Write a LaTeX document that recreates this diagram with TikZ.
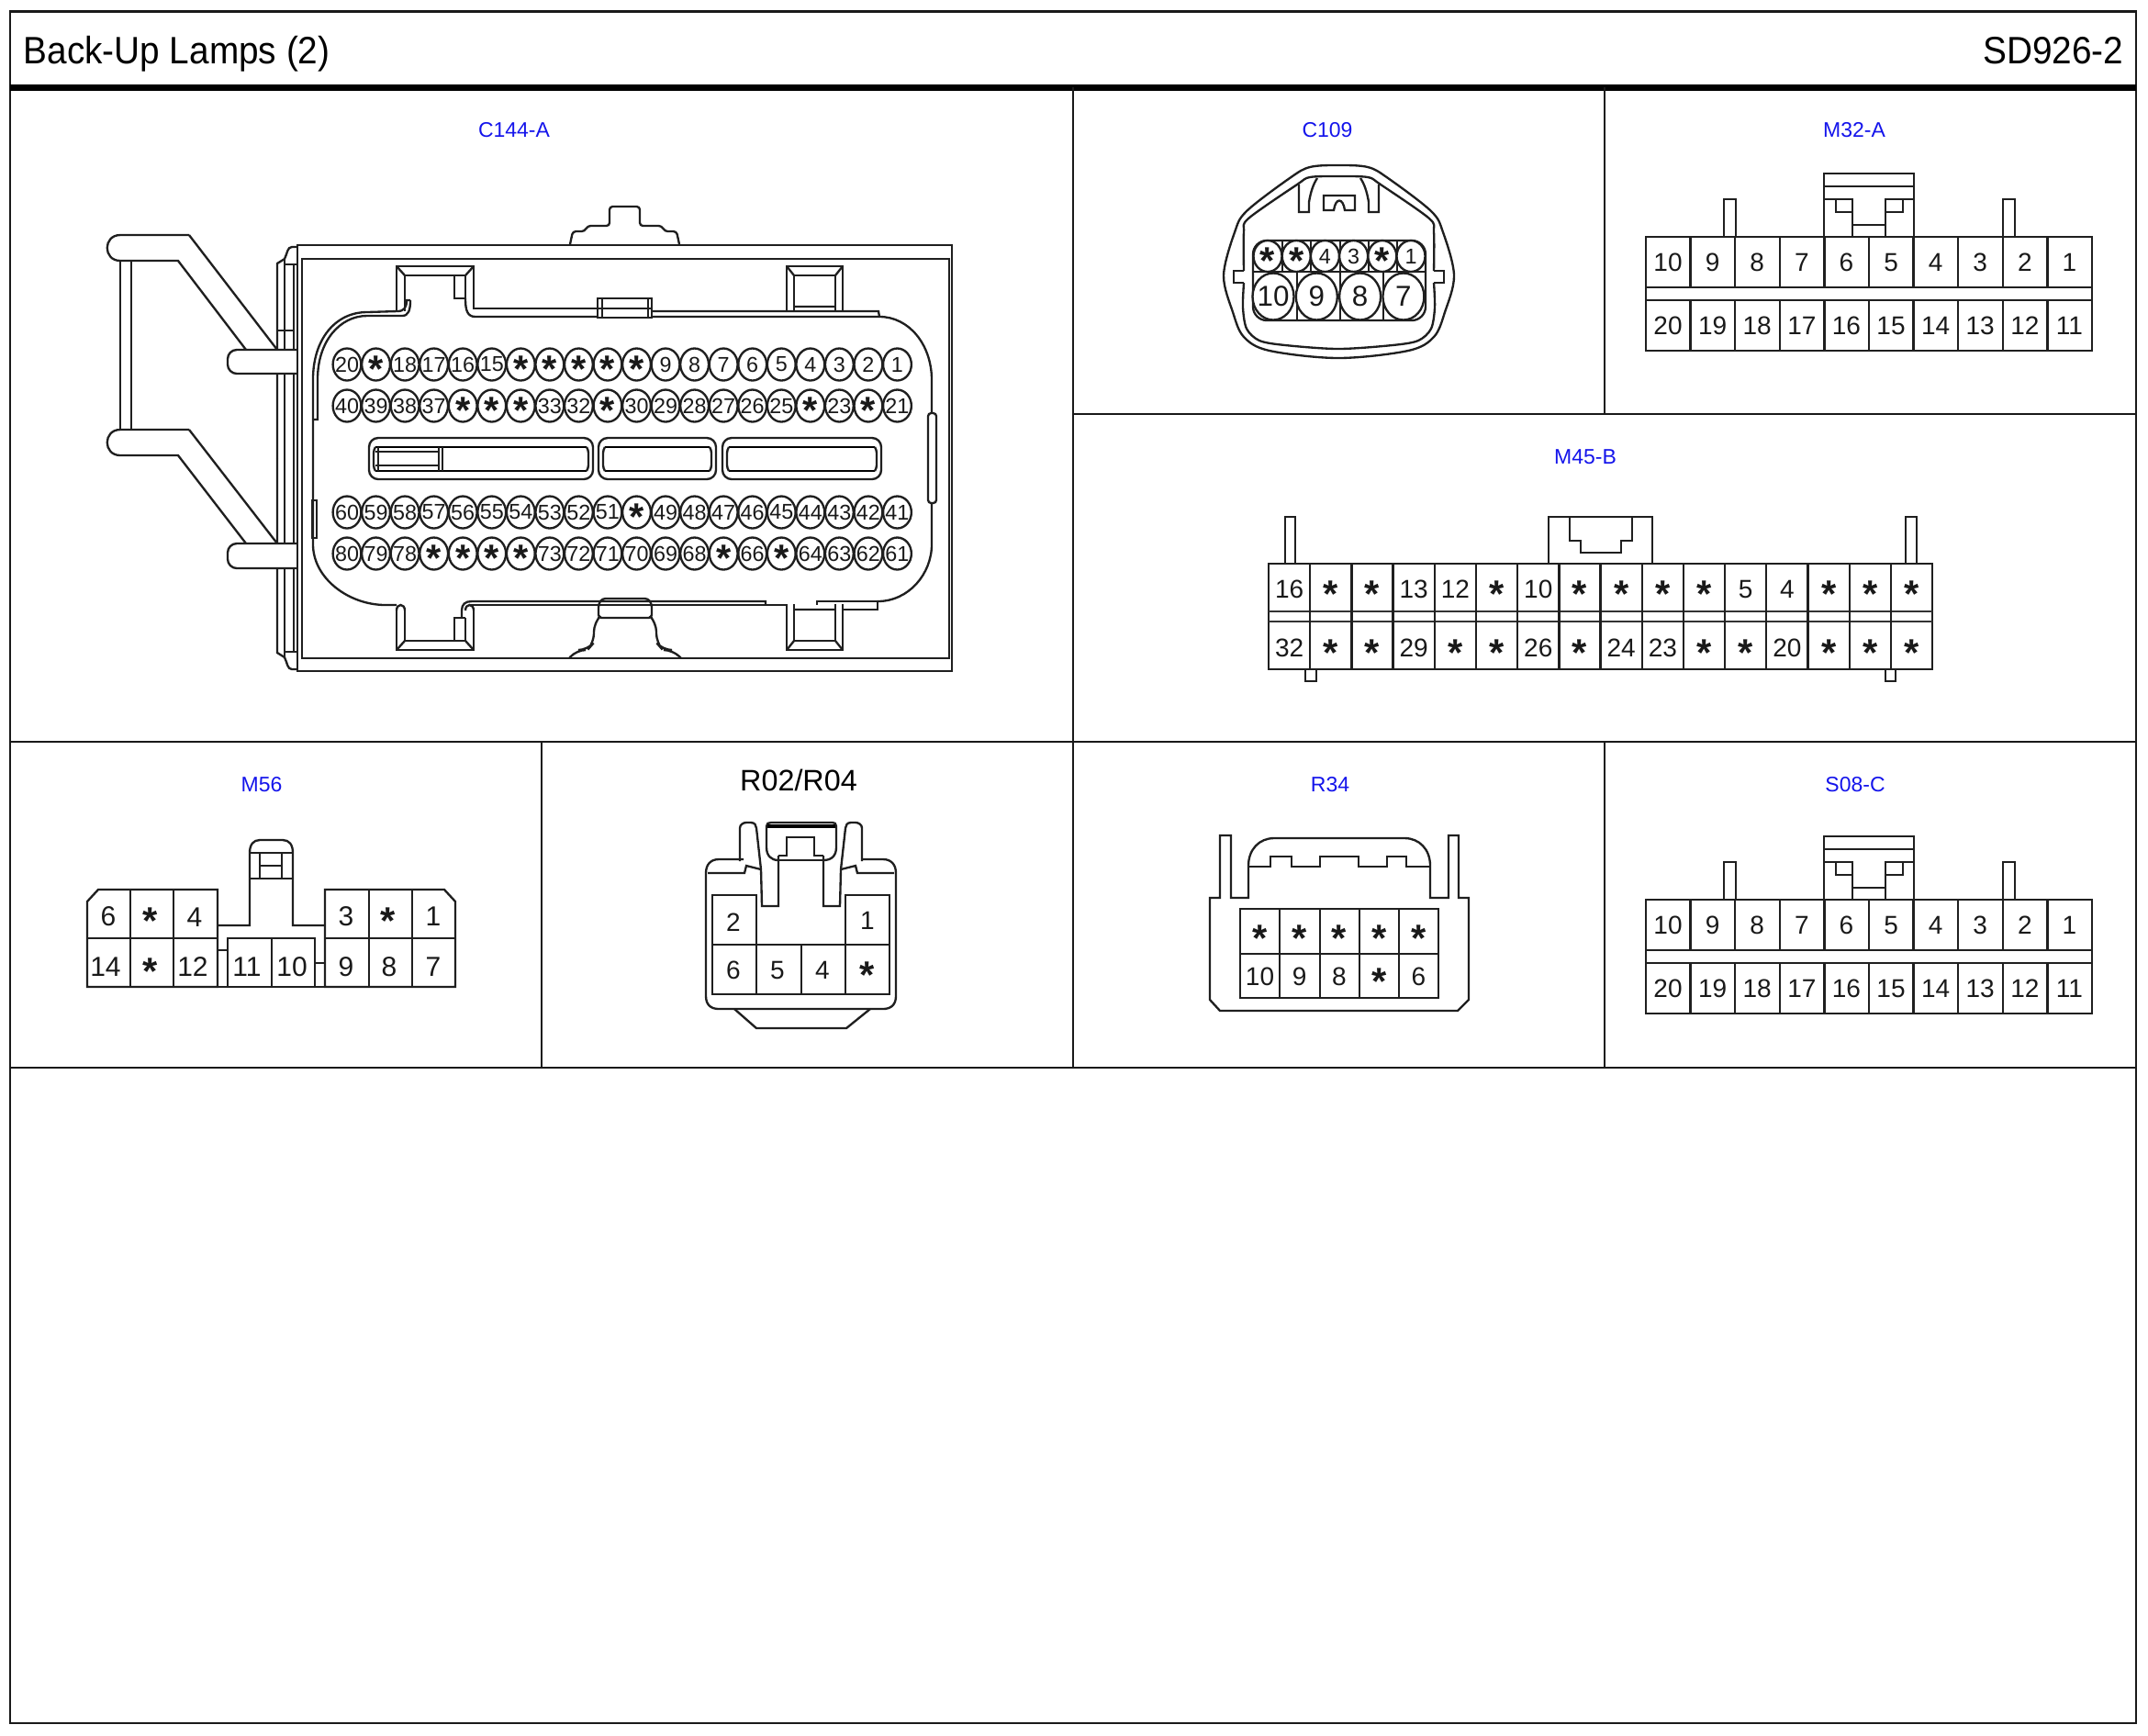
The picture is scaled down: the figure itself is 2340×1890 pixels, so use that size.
\documentclass[tikz,border=0pt]{standalone}
\usepackage{fontspec}
\setmainfont{Liberation Sans}
\newfontfamily\titlefont[FakeStretch=0.93]{Liberation Sans}
\usetikzlibrary{calc}
\definecolor{labelblue}{RGB}{20,20,235}
\tikzset{
	partline/.style={line width=0.7pt, color=black!88},
	frameline/.style={line width=0.75pt, color=black!90},
	pinlabel/.style={inner sep=0pt, font=\fontsize{8.4pt}{10pt}\selectfont, color=black!90},
	pinsmall/.style={inner sep=0pt, font=\fontsize{7pt}{8pt}\selectfont, color=black!90},
	pinmid/.style={inner sep=0pt, font=\fontsize{9pt}{11pt}\selectfont, color=black!90},
	pinlarge/.style={inner sep=0pt, font=\fontsize{9.4pt}{11pt}\selectfont, color=black!90},
	conntitle/.style={inner sep=0pt, font=\fontsize{6.9pt}{8pt}\selectfont, color=labelblue},
	pagetitle/.style={inner sep=0pt, font=\titlefont\fontsize{12.5pt}{14pt}\selectfont, color=black}
}
\def\st{\raisebox{-5.8pt}[0pt][0pt]{\fontsize{12.5pt}{14pt}\selectfont\bfseries *}}
\def\pinrow#1[#2](#3,#4,#5)#6{\foreach \lbl [count=\n from 0] in {#6} {\node[#2] (#1\n) at ({#3+#4*\n},#5) {\lbl};}}
\def\ringrow#1[#2](#3,#4,#5)(#6,#7)#8{\foreach \lbl [count=\n from 0] in {#8} {
	\draw[partline, fill=white] ({#3+#4*\n},#5) circle [x radius=#6, y radius=#7];
	\node[#2] (#1\n) at ({#3+#4*\n},#5) {\lbl};}}
\def\shroudnotch{
	\draw[partline] (432,333) -- (432,290) -- (516,290) -- (516,333);
	\draw[partline] (441,333) -- (441,300) -- (507,300) -- (507,325);
	\draw[partline] (432,290) -- (441,300) (516,290) -- (507,300);
	\draw[partline] (495,300) -- (495,325) -- (507,325);
	\draw[partline] (857,340) -- (857,290) -- (918,290) -- (918,340);
	\draw[partline] (865,340) -- (865,300) -- (910,300) -- (910,340);
	\draw[partline] (857,290) -- (865,300) (918,290) -- (910,300) (865,334) -- (910,334);
}
\def\sideedge{
	\draw[partline] (324,269) -- (318,269) .. controls (313,269) and (313,276) .. (310,282) -- (302,287) -- (302,499);
	\draw[partline] (310,282) -- (310,499);
	\draw[partline] (310,288) -- (324,288);
	\draw[partline] (320,288) -- (320,499);
}
\def\twentyway#1#2{
	\begin{scope}[shift={(0,#2)}]
		\draw[partline] (1793,258) rectangle (2279,382);
		\draw[partline] (1793,313) -- (2279,313) (1793,327) -- (2279,327);
		\foreach \n in {1,...,9} {
			\draw[partline] ({1793+48.6*\n},258) -- ({1793+48.6*\n},313);
			\draw[partline] ({1793+48.6*\n},327) -- ({1793+48.6*\n},382);
		}
		\draw[partline] (1878,258) -- (1878,217) -- (1891,217) -- (1891,258);
		\draw[partline] (2182,258) -- (2182,217) -- (2195,217) -- (2195,258);
		\draw[partline] (1987,258) -- (1987,189) -- (2085,189) -- (2085,258);
		\draw[partline] (1987,203) -- (2085,203);
		\draw[partline] (1987,217) -- (2018,217) -- (2018,258);
		\draw[partline] (2085,217) -- (2054,217) -- (2054,258);
		\draw[partline] (2018,245) -- (2054,245);
		\draw[partline] (2000,217) -- (2000,231) -- (2018,231);
		\draw[partline] (2073,217) -- (2073,231) -- (2054,231);
		\pinrow{#1up}[pinlabel](1817,48.6,286){10,9,8,7,6,5,4,3,2,1}
		\pinrow{#1lo}[pinlabel](1817,48.6,355){20,19,18,17,16,15,14,13,12,11}
	\end{scope}
}

\begin{document}
\begin{tikzpicture}[x=0.3pt, y=-0.3pt]
	\useasboundingbox (0,0) rectangle (2340,1890);
	%%%%% FRAME %%%%%
	\draw[frameline] (11,12.5) rectangle (2327,1877);
	\draw[line width=2.1pt] (11,95.5) -- (2327,95.5);
	\draw[frameline] (1169,95) -- (1169,1163);
	\draw[frameline] (1748,95) -- (1748,451);
	\draw[frameline] (1748,808) -- (1748,1163);
	\draw[frameline] (590,808) -- (590,1163);
	\draw[frameline] (1169,451) -- (2327,451);
	\draw[frameline] (11,808) -- (2327,808);
	\draw[frameline] (11,1163) -- (2327,1163);
	\node[pagetitle, anchor=base west] (title) at (25,69.5) {Back-Up Lamps (2)};
	\node[pagetitle, anchor=base east] (sheet) at (2314,69.5) {SD926-2};
	\node[conntitle] (c144name) at (560,141.5) {C144-A};
	\node[conntitle] (c109name) at (1446,141.5) {C109};
	\node[conntitle] (m32name) at (2020,141.5) {M32-A};
	\node[conntitle] (m45name) at (1727,497.5) {M45-B};
	\node[conntitle] (m56name) at (285,854.5) {M56};
	\node[inner sep=0pt, font=\fontsize{9.7pt}{12pt}\selectfont] (r02name) at (870,850) {R02/R04};
	\node[conntitle] (r34name) at (1449,854.5) {R34};
	\node[conntitle] (s08name) at (2021,854.5) {S08-C};

	%%%%% C144-A %%%%%
	\draw[partline] (206,256) -- (131,256) .. controls (112,256) and (112,284) .. (131,284) -- (194,284) -- (268,381);
	\draw[partline] (206,256) -- (302,381);
	\draw[partline] (206,468) -- (131,468) .. controls (112,468) and (112,496) .. (131,496) -- (194,496) -- (268,592);
	\draw[partline] (206,468) -- (302,592);
	\draw[partline] (131,284) -- (131,468);
	\draw[partline] (143,284) -- (143,468);
	\sideedge
	\begin{scope}[shift={(0,998)}, yscale=-1]
		\sideedge
	\end{scope}
	\draw[partline] (302,360) -- (320,360);
	\draw[partline, fill=white, rounded corners=3pt] (324,381) -- (248,381) -- (248,407) -- (324,407);
	\draw[partline, fill=white, rounded corners=3pt] (324,592) -- (248,592) -- (248,619) -- (324,619);
	\draw[partline] (324,267) rectangle (1037,731);
	\draw[partline] (329,282) -- (1034,282) -- (1034,717) -- (329,717) -- cycle;
	\draw[partline, rounded corners=1pt] (621,266) -- (624,252) -- (637,252) -- (640,246) -- (664,246) -- (664,225) -- (697,225) -- (697,246) -- (721,246) -- (724,252) -- (737,252) -- (740,266);
	\draw[partline, rounded corners=3pt] (620,717) -- (628,708) -- (640,708) -- (647,700) -- (647,678) -- (652,673);
	\draw[partline, rounded corners=3pt] (742,717) -- (733,708) -- (722,708) -- (715,700) -- (715,678) -- (710,673);
	\draw[partline, rounded corners=1pt] (652,673) -- (652,658) -- (656,652) -- (706,652) -- (710,658) -- (710,673) -- cycle;
	% shroud outline
	\draw[partline] (341,457) -- (341,413) .. controls (341,370) and (365,340) .. (400,340) -- (433,339) .. controls (440,339) and (443,335) .. (443,327) -- (447,327);
	\draw[partline] (341,457) -- (346,457) -- (346,413) .. controls (346,372) and (370,344) .. (400,344) -- (438,344) .. controls (445,344) and (447,338) .. (447,327);
	\draw[partline] (341,457) -- (341,593) .. controls (341,630) and (380,659) .. (420,659) -- (432,659);
	\draw[partline] (958,345) .. controls (990,345) and (1015,375) .. (1015,414) -- (1015,593) .. controls (1015,625) and (990,655) .. (956,655);
	\draw[partline] (340,545) rectangle (345,586);
	\draw[partline, fill=white, rounded corners=1pt] (1011,450) rectangle (1020,548);
	\shroudnotch
	\begin{scope}[shift={(0,998)}, yscale=-1]
		\shroudnotch
	\end{scope}
	% upper rim
	\draw[partline] (432,333) -- (432,339) (441,333) -- (441,339) (516,333) -- (516,336) -- (651,336);
	\draw[partline] (507,325) .. controls (507,338) and (509,345) .. (518,345) -- (958,345);
	\draw[partline] (710,339) -- (957,339) -- (958,345);
	\draw[partline, fill=white] (651,325) -- (710,325) -- (710,346) -- (651,346) -- cycle;
	\draw[partline] (656,325) -- (656,346) (706,325) -- (706,346) (651,336) -- (710,336);
	% lower rim
	\draw[partline] (432,665) .. controls (432,657) and (441,657) .. (441,665);
	\draw[partline] (507,665) .. controls (507,657) and (516,657) .. (516,665);
	\draw[partline] (503,673) -- (503,665) .. controls (503,658) and (507,655) .. (514,655) -- (834,655) -- (834,659);
	\draw[partline] (512,659) -- (857,659);
	\draw[partline] (918,664) -- (956,664) -- (956,655) -- (890,655) -- (890,659);
	% slots
	\foreach \xa/\xb in {402/646,652/780,787/960} {
		\draw[partline, rounded corners=3pt] (\xa,477) rectangle (\xb,522);
		\draw[line width=0.85pt] ({\xa+7},487) -- ({\xb-7},487);
		\draw[line width=0.85pt] ({\xa+7},513) -- ({\xb-7},513);
		\draw[partline, rounded corners=1pt] ({\xa+7},487) -- ({\xa+5},490) -- ({\xa+5},510) -- ({\xa+7},513);
		\draw[partline, rounded corners=1pt] ({\xb-7},487) -- ({\xb-5},490) -- ({\xb-5},510) -- ({\xb-7},513);
	}
	\draw[partline] (409,492) -- (478,492) (409,507) -- (478,507) (412,487) -- (412,513) (478,487) -- (478,513) (482,487) -- (482,513);
	% terminals
	\ringrow{cpa}[pinsmall](378,31.55,397)(15.4,17.5){20,\st,18,17,16,15,\st,\st,\st,\st,\st,9,8,7,6,5,4,3,2,1}
	\ringrow{cpb}[pinsmall](378,31.55,442)(15.4,17.5){40,39,38,37,\st,\st,\st,33,32,\st,30,29,28,27,26,25,\st,23,\st,21}
	\ringrow{cpc}[pinsmall](378,31.55,558)(15.4,17.5){60,59,58,57,56,55,54,53,52,51,\st,49,48,47,46,45,44,43,42,41}
	\ringrow{cpd}[pinsmall](378,31.55,603)(15.4,17.5){80,79,78,\st,\st,\st,\st,73,72,71,70,69,68,\st,66,\st,64,63,62,61}

	%%%%% C109 %%%%%
	\draw[partline] plot[smooth cycle, tension=0.55] coordinates {(1458,180) (1427,182) (1405,194) (1358,230) (1345,253) (1333,300) (1343,340) (1355,367) (1383,382) (1458,390) (1534,382) (1562,367) (1574,340) (1584,300) (1572,253) (1559,230) (1512,194) (1490,182)};
	\draw[partline] plot[smooth, tension=0.5] coordinates {(1355,295) (1355,253) (1360,238) (1413,201) (1427,193) (1458,192) (1490,193) (1504,201) (1557,238) (1562,253) (1562,295)};
	\draw[partline] plot[smooth, tension=0.5] coordinates {(1355,308) (1354,335) (1358,358) (1372,371) (1400,376) (1458,380) (1517,376) (1545,371) (1559,358) (1563,335) (1562,308)};
	\draw[partline] (1355,295) -- (1344,295) -- (1344,308) -- (1355,308);
	\draw[partline] (1562,295) -- (1573,295) -- (1573,308) -- (1562,308);
	\draw[partline] (1415,201) -- (1415,231) -- (1426,231) -- (1426,220) .. controls (1428,208) and (1431,200) .. (1435,194);
	\draw[partline] (1502,201) -- (1502,231) -- (1491,231) -- (1491,220) .. controls (1489,208) and (1486,200) .. (1482,194);
	\draw[partline] (1442,213) -- (1476,213) -- (1476,229) -- (1465,229) .. controls (1463,215) and (1455,215) .. (1453,229) -- (1442,229) -- cycle;
	\draw[partline, rounded corners=4.5pt] (1365,262) rectangle (1553,349);
	\draw[partline] (1365,296) -- (1553,296);
	\foreach \xa in {1397,1428,1460,1491,1522} {\draw[partline] (\xa,262) -- (\xa,296);}
	\foreach \xa in {1413,1460,1507} {\draw[partline] (\xa,296) -- (\xa,349);}
	\ringrow{cua}[pinsmall](1381,31.2,279)(15.5,17){\st,\st,4,3,\st,1}
	\ringrow{cub}[pinlarge](1387,47.3,323)(22.5,25.5){10,9,8,7}

	%%%%% M32-A %%%%%
	\twentyway{mta}{0}

	%%%%% S08-C %%%%%
	\twentyway{sca}{722}

	%%%%% M45-B %%%%%
	\draw[partline] (1382,614) rectangle (2105,729);
	\draw[line width=0.85pt, color=black!80] (1382,666) -- (2105,666) (1382,677) -- (2105,677);
	\foreach \n in {1,...,15} {\draw[partline] ({1382+45.19*\n},614) -- ({1382+45.19*\n},729);}
	\draw[partline] (1400,614) -- (1400,563) -- (1411,563) -- (1411,614);
	\draw[partline] (2076,614) -- (2076,563) -- (2088,563) -- (2088,614);
	\draw[partline] (1422,729) -- (1422,742) -- (1434,742) -- (1434,729);
	\draw[partline] (2054,729) -- (2054,742) -- (2065,742) -- (2065,729);
	\draw[partline] (1687,614) -- (1687,563) -- (1800,563) -- (1800,614);
	\draw[partline] (1710,563) -- (1710,589) -- (1722,589) -- (1722,602) -- (1766,602) -- (1766,589) -- (1778,589) -- (1778,563);
	\pinrow{mfa}[pinlabel](1404.6,45.19,642){16,\st,\st,13,12,\st,10,\st,\st,\st,\st,5,4,\st,\st,\st}
	\pinrow{mfb}[pinlabel](1404.6,45.19,706){32,\st,\st,29,\st,\st,26,\st,24,23,\st,\st,20,\st,\st,\st}

	%%%%% M56 %%%%%
	\draw[partline] (237,969) -- (107,969) -- (95,982) -- (95,1075) -- (237,1075) -- cycle;
	\draw[partline] (95,1022) -- (237,1022) (142,969) -- (142,1075) (189,969) -- (189,1075);
	\draw[partline] (354,969) -- (484,969) -- (496,982) -- (496,1075) -- (354,1075) -- cycle;
	\draw[partline] (354,1022) -- (496,1022) (402,969) -- (402,1075) (449,969) -- (449,1075);
	\draw[partline] (237,1008) -- (272,1008) -- (272,929) .. controls (272,920) and (276,915) .. (283,915) -- (308,915) .. controls (315,915) and (319,920) .. (319,929) -- (319,1008) -- (354,1008);
	\draw[partline] (272,929) -- (319,929) (272,957) -- (319,957) (283,929) -- (283,957) (307,929) -- (307,957) (283,943) -- (307,943);
	\draw[partline] (237,1075) -- (354,1075);
	\draw[partline] (248,1075) -- (248,1022) -- (343,1022) -- (343,1075) (296,1022) -- (296,1075);
	\draw[partline] (237,1035) -- (248,1035) (343,1049) -- (354,1049);
	\node[pinmid] (msa) at (118,998) {6};
	\node[pinmid] (msb) at (164,998) {\st};
	\node[pinmid] (msc) at (212,999) {4};
	\node[pinmid] (msd) at (377,998) {3};
	\node[pinmid] (mse) at (423,998) {\st};
	\node[pinmid] (msf) at (472,998) {1};
	\node[pinmid] (msg) at (115,1053) {14};
	\node[pinmid] (msh) at (164,1053) {\st};
	\node[pinmid] (msi) at (210,1053) {12};
	\node[pinmid] (msj) at (269,1053) {11};
	\node[pinmid] (msk) at (318,1053) {10};
	\node[pinmid] (msl) at (377,1053) {9};
	\node[pinmid] (msm) at (424,1053) {8};
	\node[pinmid] (msn) at (472,1053) {7};

	%%%%% R02/R04 %%%%%
	\draw[partline] (810,936) -- (783,936) .. controls (774,936) and (769,942) .. (769,951) -- (769,1085) .. controls (769,1094) and (774,1099) .. (783,1099) -- (962,1099) .. controls (971,1099) and (976,1094) .. (976,1085) -- (976,951) .. controls (976,942) and (971,936) .. (962,936) -- (939,936);
	\draw[partline] (771,951) -- (811,951) -- (813,943) -- (829,947);
	\draw[partline] (974,951) -- (934,951) -- (932,943) -- (916,947);
	\draw[partline] (806,938) -- (806,902) .. controls (806,898) and (810,896) .. (813,896) -- (818,896) .. controls (822,896) and (824,899) .. (824,902) -- (829,947) -- (830,987) -- (848,987) -- (848,932);
	\draw[partline] (939,938) -- (939,902) .. controls (939,898) and (935,896) .. (932,896) -- (927,896) .. controls (923,896) and (921,899) .. (921,902) -- (916,947) -- (915,987) -- (897,987) -- (897,932);
	\draw[partline] (848,932) -- (857,932) -- (857,912) -- (887,912) -- (887,932) -- (897,932);
	\draw[partline] (848,937) -- (897,937);
	\draw[partline] (835,923) .. controls (835,932) and (840,937) .. (848,937);
	\draw[partline] (911,923) .. controls (911,932) and (906,937) .. (897,937);
	\draw[partline] (835,923) -- (835,900) .. controls (835,897) and (837,896) .. (840,896) -- (907,896) .. controls (909,896) and (911,897) .. (911,900) -- (911,923);
	\draw[line width=1pt] (836,900) -- (910,900);
	\draw[partline] (800,1099) -- (824,1120) -- (922,1120) -- (948,1099);
	\draw[partline] (776,975) -- (824,975) -- (824,1083) -- (776,1083) -- cycle;
	\draw[partline] (921,975) -- (969,975) -- (969,1083) -- (921,1083) -- cycle;
	\draw[partline] (776,1029) -- (969,1029) (776,1083) -- (969,1083) (873,1029) -- (873,1083);
	\node[pinlabel] (rfa) at (799,1005) {2};
	\node[pinlabel] (rfb) at (945,1003) {1};
	\node[pinlabel] (rfc) at (799,1057) {6};
	\node[pinlabel] (rfd) at (847,1057) {5};
	\node[pinlabel] (rfe) at (896,1057) {4};
	\node[pinlabel] (rff) at (945,1057) {\st};

	%%%%% R34 %%%%%
	\draw[partline] (1318,978) -- (1329,978) -- (1329,910) -- (1341,910) -- (1341,978) -- (1360,978) -- (1360,943) .. controls (1360,925) and (1372,913) .. (1388,913) -- (1530,913) .. controls (1546,913) and (1558,925) .. (1558,943) -- (1558,978) -- (1578,978) -- (1578,910) -- (1589,910) -- (1589,978) -- (1600,978) -- (1600,1089) -- (1588,1101) -- (1329,1101) -- (1318,1089) -- cycle;
	\draw[partline] (1360,944) -- (1384,944) -- (1384,933) -- (1407,933) -- (1407,944) -- (1438,944) -- (1438,933) -- (1480,933) -- (1480,944) -- (1511,944) -- (1511,933) -- (1532,933) -- (1532,944) -- (1558,944);
	\draw[partline] (1351,990) rectangle (1567,1087);
	\draw[partline] (1351,1039) -- (1567,1039);
	\foreach \xa in {1394,1438,1481,1524} {\draw[partline] (\xa,990) -- (\xa,1087);}
	\pinrow{rta}[pinlabel](1372.5,43.2,1017){\st,\st,\st,\st,\st}
	\pinrow{rtb}[pinlabel](1372.5,43.2,1064){10,9,8,\st,6}
\end{tikzpicture}
\end{document}
